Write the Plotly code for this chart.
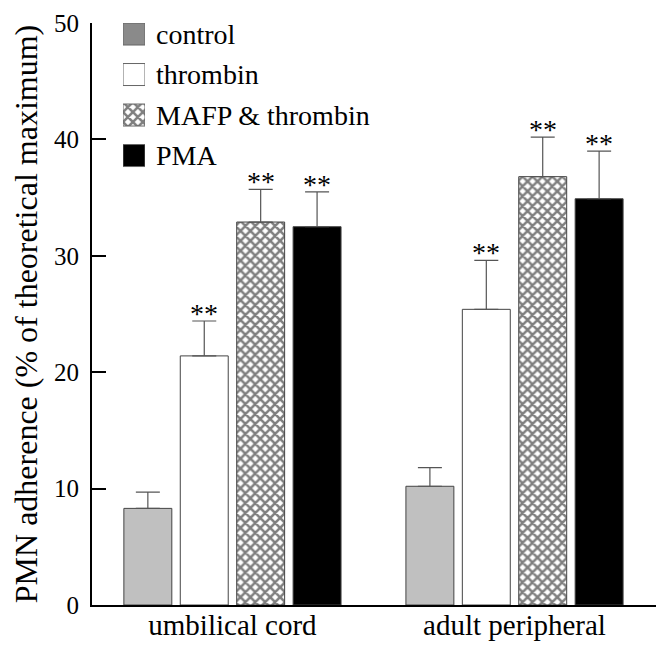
import plotly.graph_objects as go

categories = ["umbilical cord", "adult peripheral"]
series_names = ["control", "thrombin", "MAFP &amp; thrombin", "PMA"]
means = {
    "control": [8.3, 10.2],
    "thrombin": [21.4, 25.4],
    "MAFP &amp; thrombin": [32.9, 36.8],
    "PMA": [32.5, 34.9],
}
errors = {
    "control": [1.4, 1.6],
    "thrombin": [3.0, 4.2],
    "MAFP &amp; thrombin": [2.8, 3.4],
    "PMA": [3.0, 4.1],
}
stars = {
    "control": ["", ""],
    "thrombin": ["**", "**"],
    "MAFP &amp; thrombin": ["**", "**"],
    "PMA": ["**", "**"],
}
y_ticks = [0, 10, 20, 30, 40, 50]

FONT = "Liberation Serif"
bar_fill = {"control": "#c0c0c0", "thrombin": "#ffffff", "MAFP &amp; thrombin": "#ffffff", "PMA": "#000000"}
legend_fill = {"control": "#8a8a8a", "thrombin": "#ffffff", "MAFP &amp; thrombin": "#ffffff", "PMA": "#000000"}
hatch = dict(shape="x", fgcolor="#000000", bgcolor="#ffffff", size=7, solidity=0.6)

BARGAP = 0.2
BARGROUPGAP = 0.15
xpos = list(range(len(categories)))

fig = go.Figure()
for name in series_names:
    fig.add_trace(go.Bar(
        x=xpos, y=means[name], name=name, showlegend=False,
        marker=dict(color=bar_fill[name], line=dict(color="#444444", width=1),
                    pattern=hatch if name.startswith("MAFP") else None),
        error_y=dict(type="data", symmetric=False, array=errors[name],
                     arrayminus=[0] * len(categories), color="#555555",
                     thickness=1.2, width=12),
    ))

# significance stars above error bars
n = len(series_names)
slot = (1 - BARGAP) / n
for i, name in enumerate(series_names):
    for g, (m, e, s) in enumerate(zip(means[name], errors[name], stars[name])):
        if s:
            fig.add_annotation(x=g + (i - (n - 1) / 2) * slot, y=m + e, text=s,
                               showarrow=False, yanchor="bottom", yshift=-10,
                               font=dict(family=FONT, size=28, color="#000000"))

# legend drawn as small horizontal bars in an inset axis
for i, name in enumerate(series_names):
    fig.add_trace(go.Bar(
        x=[1], y=[i], orientation="h", width=0.543, xaxis="x2", yaxis="y2", showlegend=False,
        marker=dict(color=legend_fill[name], line=dict(color="#666666", width=1),
                    pattern=hatch if name.startswith("MAFP") else None),
        hoverinfo="skip",
    ))

fig.update_layout(
    width=656, height=640,
    margin=dict(l=84, r=0, t=15, b=43),
    paper_bgcolor="white", plot_bgcolor="white",
    barmode="group", bargap=BARGAP, bargroupgap=BARGROUPGAP,
    font=dict(family=FONT, color="#000000"),
    xaxis=dict(range=[-0.498, 1.530], tickvals=xpos, ticktext=categories,
               showline=True, linecolor="#000000", linewidth=2, ticks="",
               showgrid=False, zeroline=False, tickfont=dict(size=29),
               ticklabelstandoff=-7, fixedrange=True, automargin=False),
    yaxis=dict(range=[0, 50], tickvals=y_ticks, showline=True, linecolor="#000000",
               linewidth=2, ticks="inside", ticklen=14, tickwidth=2, tickcolor="#000000",
               showgrid=False, zeroline=False, tickfont=dict(size=25),
               ticklabelstandoff=6, ticklabeloverflow="allow", automargin=False,
               title=dict(text="PMN adherence (% of theoretical maximum)",
                          font=dict(size=32), standoff=21)),
    xaxis2=dict(domain=[0.0542, 0.0927], range=[0, 1], visible=False, anchor="y2",
                automargin=False),
    yaxis2=dict(domain=[0.7216, 1.0], range=[3.728, -0.272], anchor="x2", side="right",
                tickvals=list(range(n)), ticktext=series_names, showgrid=False,
                zeroline=False, showline=False, ticks="", tickfont=dict(size=28),
                ticklabelstandoff=10, automargin=False),
)

fig.write_html("out.html")
